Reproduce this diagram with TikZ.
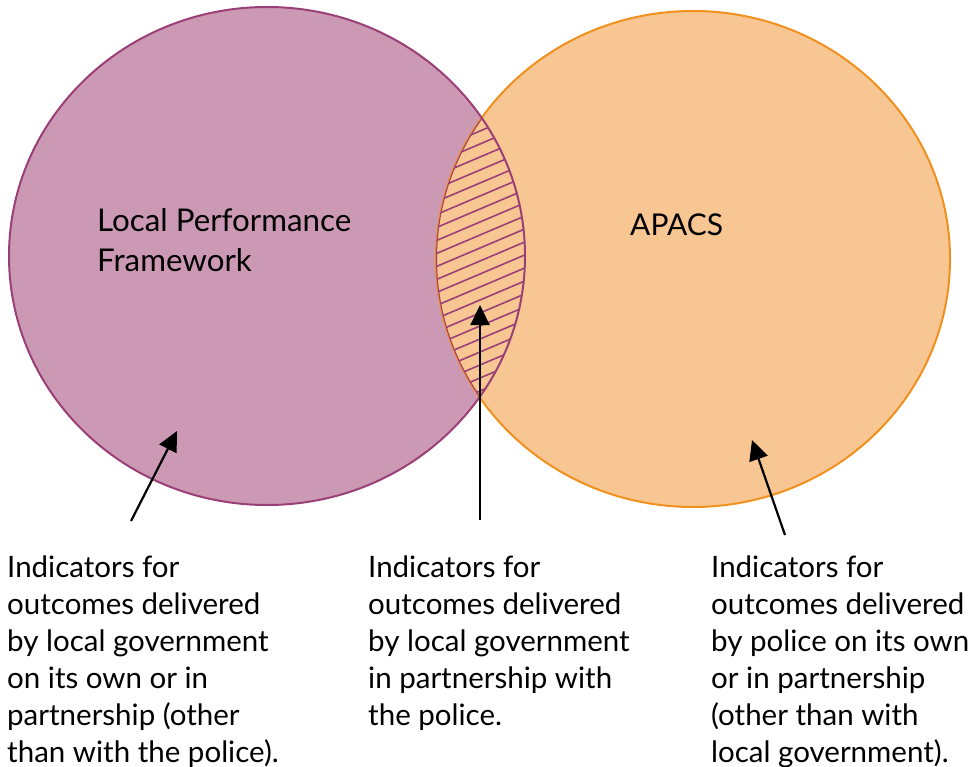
\documentclass[tikz,border=0pt]{standalone}
\usepackage{fontspec}
\setmainfont{Lato}
\usetikzlibrary{arrows.meta}
\definecolor{purpfill}{HTML}{CC99B4}
\definecolor{purpline}{HTML}{9B3F77}
\definecolor{orfill}{HTML}{F8C692}
\definecolor{orline}{HTML}{F0911F}
\tikzset{
  lbl/.style={inner sep=0pt, align=left, font=\fontsize{29.5}{37}\selectfont},
  title/.style={inner sep=0pt, align=left, font=\fontsize{31.3}{40}\selectfont},
  ptr/.style={line width=2.2pt, -{Triangle[length=20pt,width=19pt]}},
  hatch/.style={purpline, line width=1.6pt}
}
\begin{document}
\begin{tikzpicture}[x=1pt,y=-1pt]
\useasboundingbox (0,0) rectangle (974,767);
% circles
\fill[purpfill] (267,256) ellipse [x radius=258, y radius=249];
\filldraw[fill=orfill, draw=orline, line width=2pt] (693,259) ellipse [x radius=257, y radius=248];
\draw[purpline, line width=2pt] (267,256) ellipse [x radius=258, y radius=249];
% lens hatch
\begin{scope}
  \clip (267,256) ellipse [x radius=258, y radius=249];
  \clip (693,259) ellipse [x radius=257, y radius=248];
  \foreach \i in {-30,...,40} {
    \draw[hatch] (400,{100+\i*13}) -- (560,{100+\i*13-68});
  }
  \draw[purpline, line width=2pt] (693,259) ellipse [x radius=257, y radius=248];
\end{scope}
% labels
\node[title, anchor=base west] (lpf) at (97,272) {Local Performance\\Framework};
\node[inner sep=0pt, font=\fontsize{30}{40}\selectfont, anchor=base west] (apacs) at (630,236) {APACS};
\node[lbl, anchor=base west] (t1) at (7,762) {Indicators for\\outcomes delivered\\by local government\\on its own or in\\partnership (other\\than with the police).};
\node[lbl, anchor=base west] (t2) at (368,725) {Indicators for\\outcomes delivered\\by local government\\in partnership with\\the police.};
\node[lbl, anchor=base west] (t3) at (711,762) {Indicators for\\outcomes delivered\\by police on its own\\or in partnership\\(other than with\\local government).};
% arrows
\coordinate (s1) at (131,521);
\coordinate (e1) at (177,431);
\coordinate (s2) at (480,520);
\coordinate (e2) at (480,305);
\coordinate (s3) at (785,535);
\coordinate (e3) at (752,440);
\draw[ptr] (s1) -- (e1);
\draw[ptr] (s2) -- (e2);
\draw[ptr] (s3) -- (e3);
\end{tikzpicture}
\end{document}
